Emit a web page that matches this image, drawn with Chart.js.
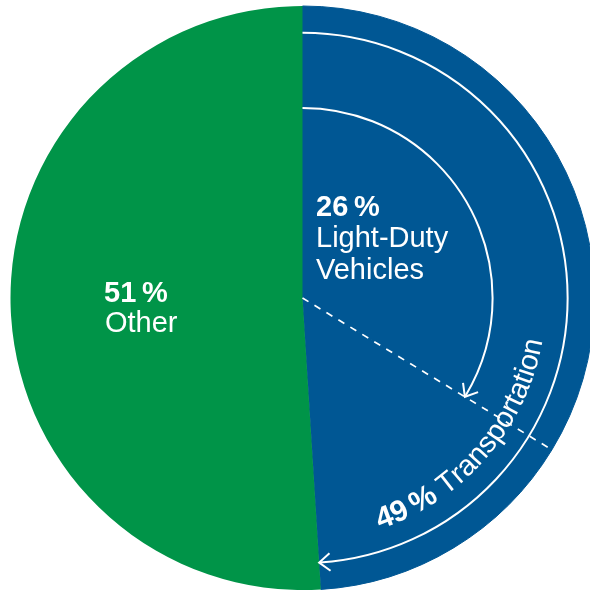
<!DOCTYPE html>
<html>
<head>
<meta charset="utf-8">
<script src="https://cdn.jsdelivr.net/npm/chart.js@4"></script>
<style>
  html, body { margin: 0; padding: 0; overflow: hidden; background: #fff; }
  #wrap { width: 605px; height: 592px; }
</style>
</head>
<body>
<div id="wrap"><canvas id="chart"></canvas></div>
<script>
// slice sizes as drawn (the 26 % divider is drawn further round than scale)
const categories = ['Light-Duty Vehicles', 'Other Transportation', 'Other'];
const sliceValues = [33.7, 15.3, 51];
const sliceColors = ['#005794', '#005794', '#009448'];

// labels printed on the chart
const lightDutyPct = 26;
const transportPct = 49;
const otherPct = 51;

const FONT = '"Liberation Sans", Arial, sans-serif';

function arrowHead(ctx, tipX, tipY, dirAngle, len, spread) {
    // dirAngle = direction the arrow travels
    ctx.beginPath();
    ctx.moveTo(tipX + Math.cos(dirAngle + Math.PI - spread) * len, tipY + Math.sin(dirAngle + Math.PI - spread) * len);
    ctx.lineTo(tipX, tipY);
    ctx.lineTo(tipX + Math.cos(dirAngle + Math.PI + spread) * len, tipY + Math.sin(dirAngle + Math.PI + spread) * len);
    ctx.stroke();
}

function textOnArc(ctx, parts, cx, cy, r, startAngle) {
    // reads counterclockwise, letter tops toward the centre
    let offset = 0;
    parts.forEach(p => {
        ctx.font = p.font;
        for (const ch of p.text) {
            const w = ctx.measureText(ch).width;
            const a = startAngle - (offset + w / 2) / r;
            ctx.save();
            ctx.translate(cx + Math.cos(a) * r, cy + Math.sin(a) * r);
            ctx.rotate(a - Math.PI / 2);
            ctx.textAlign = 'center';
            ctx.textBaseline = 'alphabetic';
            ctx.fillText(ch, 0, 0);
            ctx.restore();
            offset += w;
        }
    });
}

const overlay = {
    id: 'overlay',
    afterDatasetsDraw(chart) {
        const ctx = chart.ctx;
        const arcs = chart.getDatasetMeta(0).data;
        const cx = arcs[0].x, cy = arcs[0].y, R = arcs[0].outerRadius;
        const top = -Math.PI / 2;
        const divider = arcs[0].endAngle;
        const blueEnd = arcs[1].endAngle;

        ctx.save();
        ctx.strokeStyle = '#fff';
        ctx.fillStyle = '#fff';
        ctx.lineCap = 'butt';

        // dashed divider for light-duty share
        ctx.lineWidth = 1.7;
        ctx.setLineDash([7, 7]);
        ctx.beginPath();
        ctx.moveTo(cx, cy);
        ctx.lineTo(cx + Math.cos(divider) * R * 0.985, cy + Math.sin(divider) * R * 0.985);
        ctx.stroke();
        ctx.setLineDash([]);

        // inner arc arrow (light-duty)
        ctx.lineWidth = 2;
        const r1 = R * 0.651;
        ctx.beginPath();
        ctx.arc(cx, cy, r1, top, divider - 0.004);
        ctx.stroke();
        arrowHead(ctx, cx + Math.cos(divider) * r1, cy + Math.sin(divider) * r1, divider + Math.PI / 2, 14, 0.68);

        // outer arc arrow (transportation)
        const r2 = R * 0.908;
        ctx.beginPath();
        ctx.arc(cx, cy, r2, top, blueEnd - 0.003);
        ctx.stroke();
        arrowHead(ctx, cx + Math.cos(blueEnd) * r2, cy + Math.sin(blueEnd) * r2, blueEnd + Math.PI / 2, 14, 0.68);

        // labels
        ctx.textAlign = 'left';
        ctx.textBaseline = 'alphabetic';
        ctx.font = 'bold 29px ' + FONT;
        ctx.fillText(lightDutyPct + '\u2009%', cx + 13.5, cy - 82);
        ctx.font = '29px ' + FONT;
        ctx.fillText('Light-Duty', cx + 13.5, cy - 51);
        ctx.fillText('Vehicles', cx + 13.5, cy - 19);

        ctx.font = 'bold 29px ' + FONT;
        ctx.fillText(otherPct + '\u2009%', cx - 198.5, cy + 4);
        ctx.font = '29px ' + FONT;
        ctx.fillText(categories[2], cx - 197.5, cy + 34);

        textOnArc(ctx, [
            { text: transportPct + '\u2009% ', font: 'bold 30px ' + FONT },
            { text: 'Transportation', font: '29px ' + FONT }
        ], cx, cy, R * 0.835, 71.5 * Math.PI / 180);

        ctx.restore();
    }
};

new Chart(document.getElementById('chart'), {
    type: 'pie',
    data: {
        labels: categories,
        datasets: [{
            data: sliceValues,
            backgroundColor: sliceColors,
            borderColor: sliceColors,
            borderWidth: [1, 1, 0],
            hoverOffset: 0,
            radius: 292
        }]
    },
    options: {
        responsive: true,
        maintainAspectRatio: false,
        animation: false,
        events: [],
        layout: { padding: { left: 10, right: 10, top: 6, bottom: 2 } },
        plugins: {
            legend: { display: false },
            tooltip: { enabled: false }
        }
    },
    plugins: [overlay]
});
</script>
</body>
</html>
